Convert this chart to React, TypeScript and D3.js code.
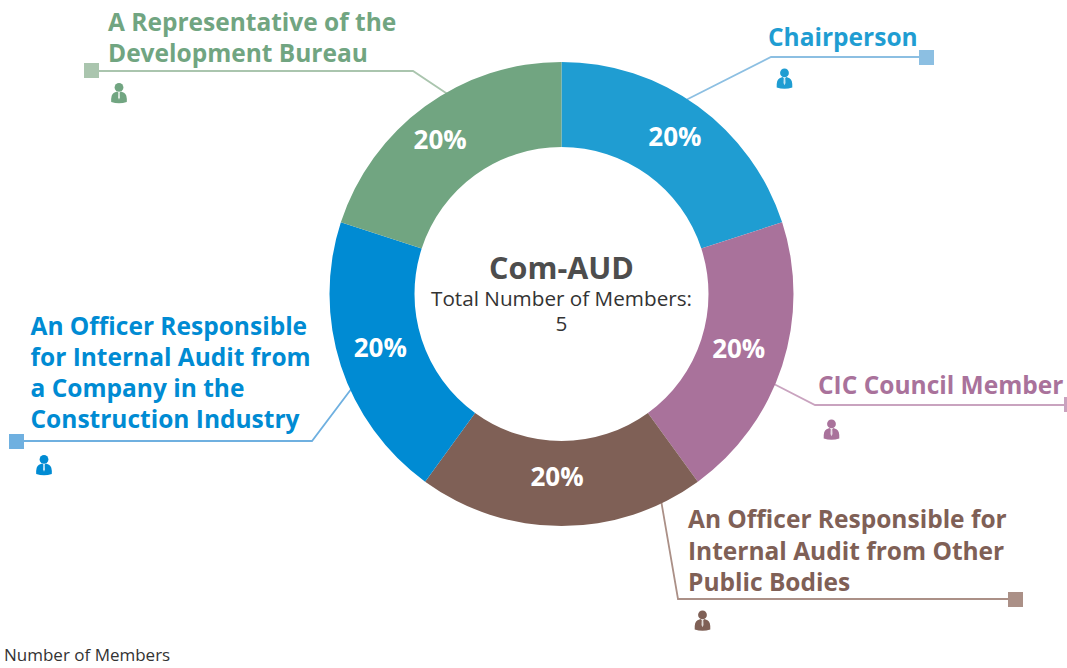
import React from 'react';
import * as d3 from 'd3';

const categories = [
  'Chairperson',
  'CIC Council Member',
  'An Officer Responsible for Internal Audit from Other Public Bodies',
  'An Officer Responsible for Internal Audit from a Company in the Construction Industry',
  'A Representative of the Development Bureau',
];
const shares = [20, 20, 20, 20, 20];
const sliceColors = ['#1f9dd2', '#a9729b', '#7f6056', '#008bd3', '#71a581'];
const lineColors = ['#8cbfe2', '#c9a3bf', '#ab9087', '#6fb0e0', '#aac5ae'];

const centerTitle = 'Com-AUD';
const centerLines = ['Total Number of Members:', '5'];
const footnote = 'Number of Members';

const FONT = '"Open Sans", "Noto Sans", sans-serif';
const cx = 561.5;
const cy = 294;
const outerR = 232;
const innerR = 147;

// layout of the callouts, same order as categories
const callouts = [
  {
    lines: ['Chairperson'], x: 768, y: 46, anchor: 'start',
    leader: [[680, 103], [771, 57], [925, 57]], square: [919, 50], person: [784.5, 79.5],
  },
  {
    lines: ['CIC Council Member'], x: 818, y: 394, anchor: 'start',
    leader: [[772, 383], [815, 405], [1065, 405]], square: [1064, 397], person: [831.5, 430.5],
  },
  {
    lines: ['An Officer Responsible for', 'Internal Audit from Other', 'Public Bodies'], x: 688, y: 528, anchor: 'start',
    leader: [[661, 500], [678, 599], [1012, 599]], square: [1008, 592], person: [702.5, 621.5],
  },
  {
    lines: ['An Officer Responsible', 'for Internal Audit from', 'a Company in the', 'Construction Industry'], x: 30.5, y: 335, anchor: 'start',
    leader: [[361, 376], [312, 441], [20, 441]], square: [9, 434], person: [44, 466],
  },
  {
    lines: ['A Representative of the', 'Development Bureau'], x: 108, y: 31, anchor: 'start',
    leader: [[452, 97], [413, 71], [95, 71]], square: [84, 63], person: [119, 94],
  },
];

const lineHeight = [0, 0, 31.5, 31, 31];
// nudges of the % labels from the arc centroid
const labelNudge = [[2, -4], [-3, -4], [-4.5, -7], [-1, -5], [-10, -1]];

const pie = d3.pie<number>().sort(null).startAngle(0).endAngle(2 * Math.PI);
const arc = d3.arc<d3.PieArcDatum<number>>().innerRadius(innerR).outerRadius(outerR);
const leaderLine = d3.line();

// small person glyph, centred on its own origin
const Person = ({ x, y, color }: { x: number; y: number; color: string }) => (
  <g transform={`translate(${x},${y})`} fill={color}>
    <circle cx={0} cy={-6.6} r={4.4} />
    <path d="M-7.8,8 Q-8.2,0.4 -5,-1.2 L-2,-2.6 L0,-1 L2,-2.6 L5,-1.2 Q8.2,0.4 7.8,8 Q0,10.4 -7.8,8 Z" />
    <path d="M-0.8,-1.4 L0.8,-1.4 L1,3.6 L0,5.8 L-1,3.6 Z" fill="#ffffff" opacity={0.75} />
  </g>
);

export default function App() {
  const arcs = pie(shares);
  return (
    <svg
      width={1067}
      height={668}
      style={{ position: 'absolute', left: 0, top: 0, background: '#fff' }}
      fontFamily={FONT}
    >
      {callouts.map((c, i) => (
        <g key={categories[i]}>
          <path
            d={leaderLine(c.leader as [number, number][]) || ''}
            fill="none"
            stroke={lineColors[i]}
            strokeWidth={1.8}
          />
          <rect x={c.square[0]} y={c.square[1]} width={15} height={15} fill={lineColors[i]} />
          <text fontSize={24.5} fontWeight={700} fill={sliceColors[i]} textAnchor={c.anchor as 'start'}>
            {c.lines.map((l, k) => (
              <tspan key={l} x={c.x} y={c.y + k * lineHeight[i]}>{l}</tspan>
            ))}
          </text>
          <Person x={c.person[0]} y={c.person[1]} color={sliceColors[i]} />
        </g>
      ))}

      <g transform={`translate(${cx},${cy})`}>
        {arcs.map((d, i) => (
          <path key={i} d={arc(d) || ''} fill={sliceColors[i]} />
        ))}
        {arcs.map((d, i) => {
          const [lx, ly] = arc.centroid(d);
          return (
            <text
              key={i}
              x={lx + labelNudge[i][0]}
              y={ly + labelNudge[i][1]}
              dy="0.36em"
              textAnchor="middle"
              fontSize={26}
              fontWeight={700}
              fill="#ffffff"
            >
              {d.data}%
            </text>
          );
        })}
      </g>

      <text x={cx} y={279} textAnchor="middle" fontSize={30.5} fontWeight={700} fill="#4d4d4d">
        {centerTitle}
      </text>
      {centerLines.map((l, i) => (
        <text key={l} x={cx} y={306 + i * 25} textAnchor="middle" fontSize={20.7} fill="#333333">
          {l}
        </text>
      ))}

      <text x={4} y={661} fontSize={17} fill="#333333">{footnote}</text>
    </svg>
  );
}
